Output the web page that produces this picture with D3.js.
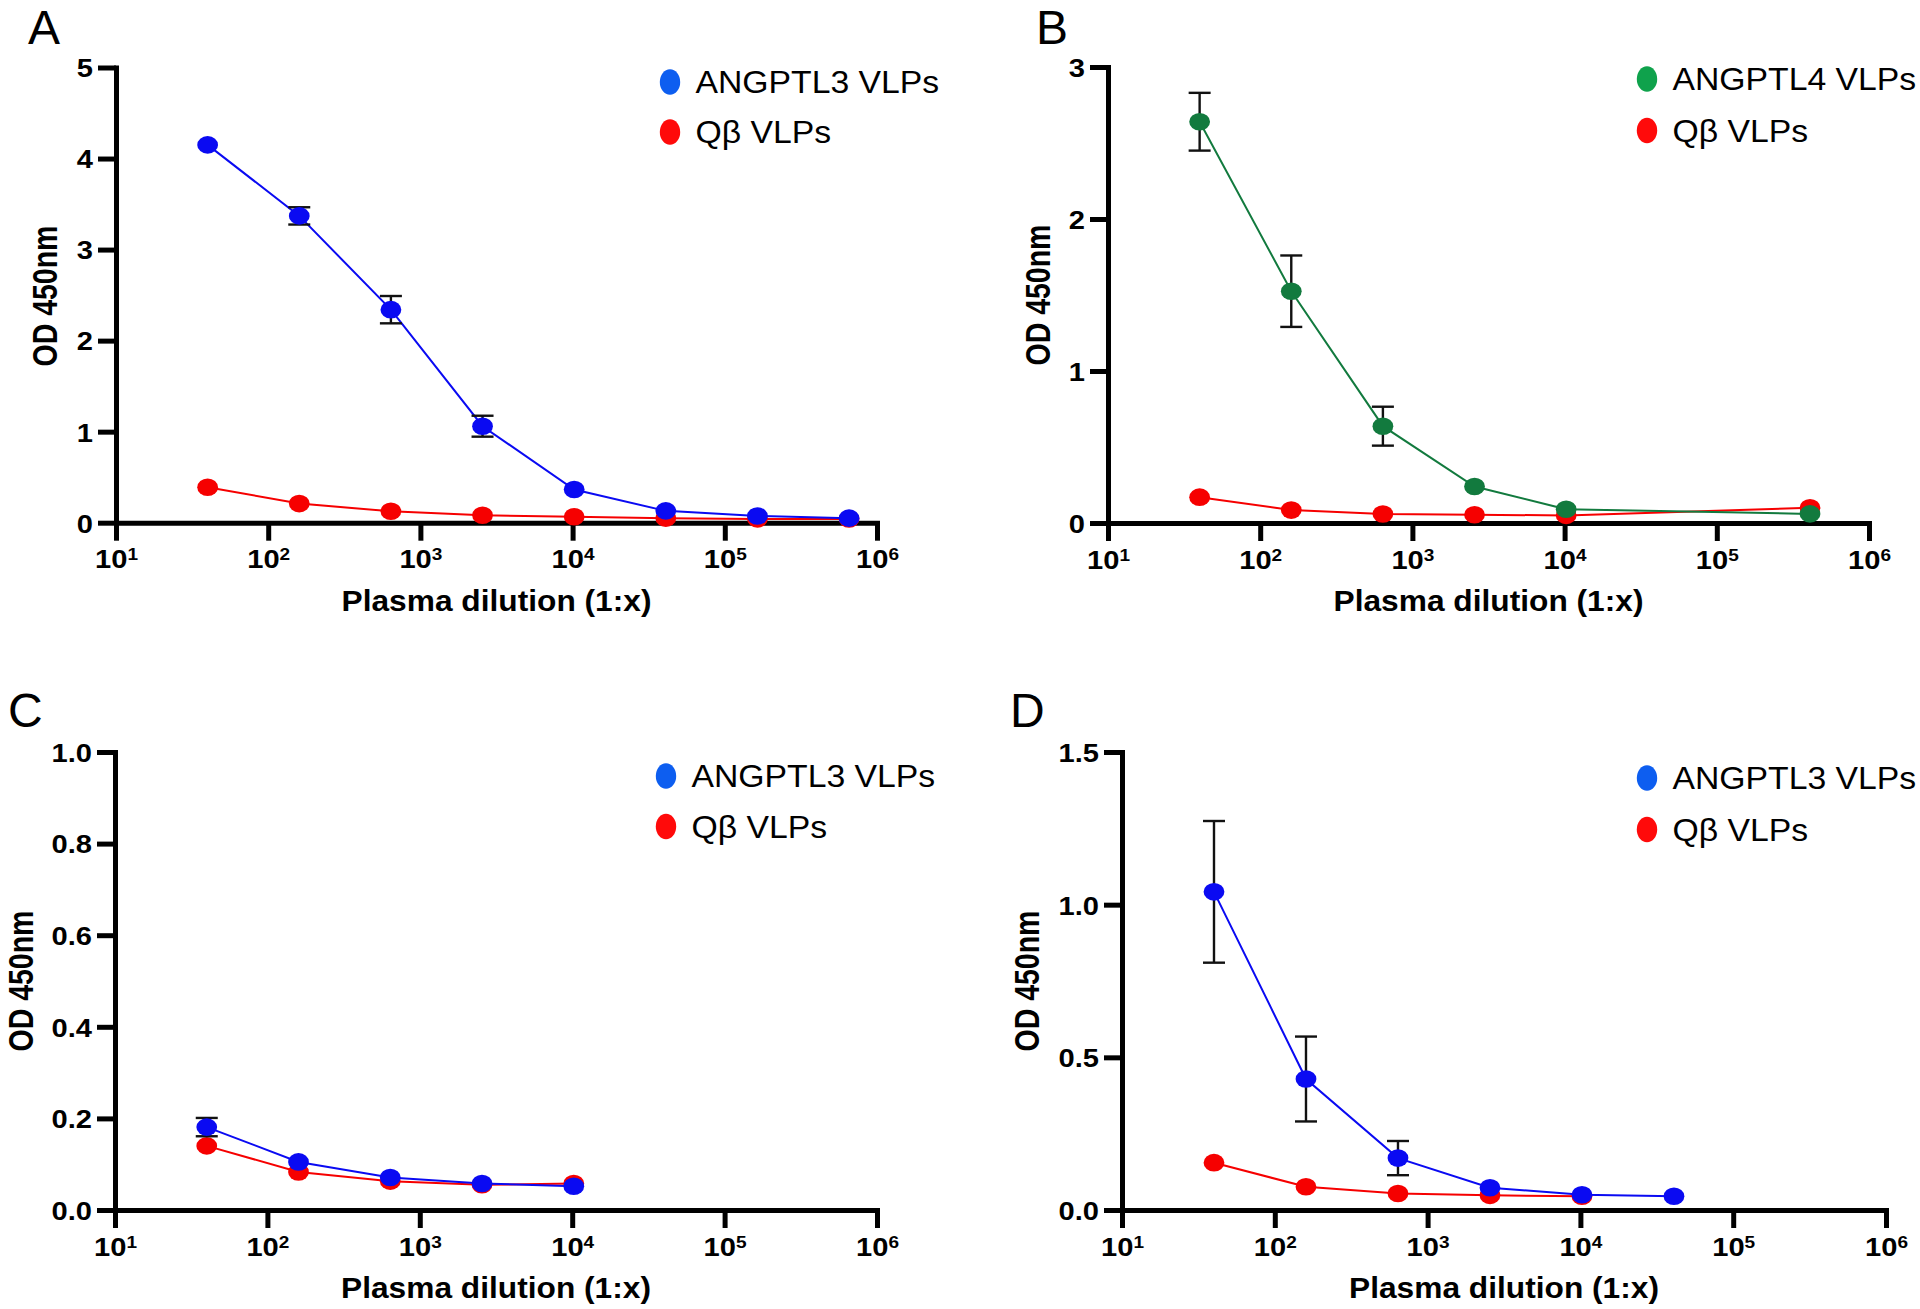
<!DOCTYPE html>
<html>
<head>
<meta charset="utf-8">
<script src="https://cdn.jsdelivr.net/npm/d3@7"></script>
<style>
  html, body { margin: 0; padding: 0; background: #fff; }
  svg { display: block; font-family: "Liberation Sans", Arial, Helvetica, sans-serif; }
</style>
</head>
<body>
<script>
// ---------------- data ----------------
const xTickValues = [1e1, 1e2, 1e3, 1e4, 1e5, 1e6];
const xTickExponents = ["1", "2", "3", "4", "5", "6"];

// Panel A
const aDilution = [40, 160, 640, 2560, 10240, 40960, 163840, 655360];
const aAngptl3 = [4.15, 3.37, 2.34, 1.06, 0.365, 0.13, 0.074, 0.05];
const aAngptl3Err = [0, 0.095, 0.15, 0.115, 0, 0, 0, 0];
const aQb = [0.39, 0.21, 0.125, 0.082, 0.065, 0.05, 0.042, 0.04];
const aYTicks = [0, 1, 2, 3, 4, 5];

// Panel B
const bDilution = [40, 160, 640, 2560, 10240, 409600];
const bAngptl4 = [2.64, 1.525, 0.637, 0.24, 0.09, 0.06];
const bAngptl4Err = [0.19, 0.235, 0.128, 0, 0, 0];
const bQb = [0.17, 0.085, 0.059, 0.054, 0.05, 0.1];
const bYTicks = [0, 1, 2, 3];

// Panel C
const cDilution = [40, 160, 640, 2560, 10240];
const cAngptl3 = [0.181, 0.105, 0.071, 0.058, 0.052];
const cAngptl3Err = [0.02, 0, 0, 0, 0];
const cQb = [0.14, 0.083, 0.063, 0.055, 0.058];
const cYTicks = [0, 0.2, 0.4, 0.6, 0.8, 1.0];

// Panel D
const dDilution = [40, 160, 640, 2560, 10240, 40960];
const dAngptl3 = [1.042, 0.429, 0.17, 0.073, 0.05, 0.045];
const dAngptl3Err = [0.232, 0.139, 0.056, 0, 0, 0];
const dQb = [0.155, 0.076, 0.054, 0.048, 0.045];
const dYTicks = [0, 0.5, 1.0, 1.5];

const legendA = ["ANGPTL3 VLPs", "Qβ VLPs"];
const legendB = ["ANGPTL4 VLPs", "Qβ VLPs"];
const xTitle = "Plasma dilution (1:x)";
const yTitle = "OD 450nm";

// ---------------- style ----------------
const COL = {
  blue: "#0a0af2", blueLeg: "#0d5ef0",
  green: "#127a3e", greenLeg: "#0fa24c",
  red: "#f60000", redLeg: "#ff0a0a"
};

const W = 1920, H = 1309;
const svg = d3.select("body").append("svg").attr("width", W).attr("height", H);

const panels = [
  { letter: "A", lx: 28, ly: 44,
    xr: [116, 877], yr: [522.7, 67.5], ydom: [0, 5], yticks: aYTicks, yfmt: d3.format("d"),
    ytx: 57, yty: 296,
    legendX: 670, legendY: [82, 132], legendNames: legendA, legendCols: [COL.blueLeg, COL.redLeg],
    series: [
      { x: aDilution, y: aQb, err: null, col: COL.red },
      { x: aDilution, y: aAngptl3, err: aAngptl3Err, col: COL.blue }
    ] },
  { letter: "B", lx: 1036, ly: 44,
    xr: [1108, 1869], yr: [523, 67], ydom: [0, 3], yticks: bYTicks, yfmt: d3.format("d"),
    ytx: 1050, yty: 295,
    legendX: 1647, legendY: [79, 130.5], legendNames: legendB, legendCols: [COL.greenLeg, COL.redLeg],
    series: [
      { x: bDilution, y: bQb, err: null, col: COL.red },
      { x: bDilution, y: bAngptl4, err: bAngptl4Err, col: COL.green }
    ] },
  { letter: "C", lx: 8, ly: 727,
    xr: [115, 877], yr: [1210, 752], ydom: [0, 1], yticks: cYTicks, yfmt: d3.format(".1f"),
    ytx: 33, yty: 981,
    legendX: 666, legendY: [776, 826.5], legendNames: legendA, legendCols: [COL.blueLeg, COL.redLeg],
    series: [
      { x: cDilution, y: cQb, err: null, col: COL.red },
      { x: cDilution, y: cAngptl3, err: cAngptl3Err, col: COL.blue }
    ] },
  { letter: "D", lx: 1010, ly: 727,
    xr: [1122, 1886], yr: [1210, 752], ydom: [0, 1.5], yticks: dYTicks, yfmt: d3.format(".1f"),
    ytx: 1039, yty: 981,
    legendX: 1647, legendY: [778, 829.5], legendNames: legendA, legendCols: [COL.blueLeg, COL.redLeg],
    series: [
      { x: dDilution.slice(0, dQb.length), y: dQb, err: null, col: COL.red },
      { x: dDilution, y: dAngptl3, err: dAngptl3Err, col: COL.blue }
    ] }
];

const TICK_FS = 26, TICK_SX = 1.12;

panels.forEach(p => {
  const g = svg.append("g");
  const x = d3.scaleLog().domain([1e1, 1e6]).range(p.xr);
  const y = d3.scaleLinear().domain(p.ydom).range(p.yr);
  const y0 = p.yr[0];

  // panel letter
  g.append("text").attr("x", p.lx).attr("y", p.ly)
    .attr("font-size", 48).attr("fill", "#000").text(p.letter);

  // x axis
  const gx = g.append("g").attr("transform", `translate(0,${y0})`)
    .call(d3.axisBottom(x).tickValues(xTickValues).tickSize(18).tickSizeOuter(0).tickFormat(() => ""));
  gx.attr("font-size", null).attr("font-family", null);
  gx.select(".domain").attr("stroke", "#000").attr("stroke-width", 5).attr("stroke-linecap", "square");
  gx.selectAll(".tick line").attr("stroke", "#000").attr("stroke-width", 5);
  gx.selectAll(".tick text").each(function (d, i) {
    const t = d3.select(this);
    t.text(null).attr("y", null).attr("dy", null)
      .attr("transform", `translate(0,45.5) scale(${TICK_SX},1)`)
      .attr("font-weight", "bold").attr("fill", "#000").attr("text-anchor", "middle");
    t.append("tspan").attr("font-size", TICK_FS).text("10");
    t.append("tspan").attr("font-size", 17).attr("dy", -8).text(xTickExponents[i]);
  });

  // y axis
  const gy = g.append("g").attr("transform", `translate(${p.xr[0]},0)`)
    .call(d3.axisLeft(y).tickValues(p.yticks).tickSize(18).tickSizeOuter(0).tickFormat(p.yfmt));
  gy.attr("font-size", null).attr("font-family", null);
  gy.select(".domain").attr("stroke", "#000").attr("stroke-width", 5).attr("stroke-linecap", "square");
  gy.selectAll(".tick line").attr("stroke", "#000").attr("stroke-width", 5);
  gy.selectAll(".tick text")
    .attr("x", null).attr("dy", "0.36em")
    .attr("transform", `translate(-23,0) scale(${TICK_SX},1)`)
    .attr("font-size", TICK_FS).attr("font-weight", "bold").attr("fill", "#000");

  // axis titles
  g.append("text")
    .attr("transform", `translate(${(p.xr[0] + p.xr[1]) / 2},${y0 + 88}) scale(1.075,1)`)
    .attr("text-anchor", "middle").attr("font-size", 29.5).attr("font-weight", "bold")
    .attr("fill", "#000").text(xTitle);
  g.append("text")
    .attr("transform", `translate(${p.ytx},${p.yty}) rotate(-90) scale(1,1.22)`)
    .attr("text-anchor", "middle").attr("font-size", 28.5).attr("font-weight", "bold")
    .attr("fill", "#000").text(yTitle);

  // series
  const line = d3.line().x(d => x(d[0])).y(d => y(d[1]));
  p.series.forEach(s => {
    const pts = s.x.map((xv, i) => [xv, s.y[i], s.err ? s.err[i] : 0]);
    g.append("path").datum(pts).attr("d", line)
      .attr("fill", "none").attr("stroke", s.col).attr("stroke-width", 2);
    const eb = g.append("g").attr("stroke", "#111").attr("stroke-width", 2.4).attr("fill", "none");
    pts.filter(d => d[2] > 0).forEach(d => {
      const cx = x(d[0]);
      eb.append("line").attr("x1", cx).attr("x2", cx).attr("y1", y(d[1] + d[2])).attr("y2", y(d[1] - d[2]));
      eb.append("line").attr("x1", cx - 11).attr("x2", cx + 11).attr("y1", y(d[1] + d[2])).attr("y2", y(d[1] + d[2]));
      eb.append("line").attr("x1", cx - 11).attr("x2", cx + 11).attr("y1", y(d[1] - d[2])).attr("y2", y(d[1] - d[2]));
    });
    g.append("g").selectAll("ellipse").data(pts).join("ellipse")
      .attr("cx", d => x(d[0])).attr("cy", d => y(d[1]))
      .attr("rx", 10.4).attr("ry", 8.8).attr("fill", s.col);
  });

  // legend
  p.legendNames.forEach((name, i) => {
    g.append("ellipse").attr("cx", p.legendX).attr("cy", p.legendY[i])
      .attr("rx", 10.2).attr("ry", 12.8).attr("fill", p.legendCols[i]);
    g.append("text")
      .attr("transform", `translate(${p.legendX + 25.5},${p.legendY[i] + 11.2}) scale(1.075,1)`)
      .attr("font-size", 31.4).attr("fill", "#000").text(name);
  });
});
</script>
</body>
</html>
